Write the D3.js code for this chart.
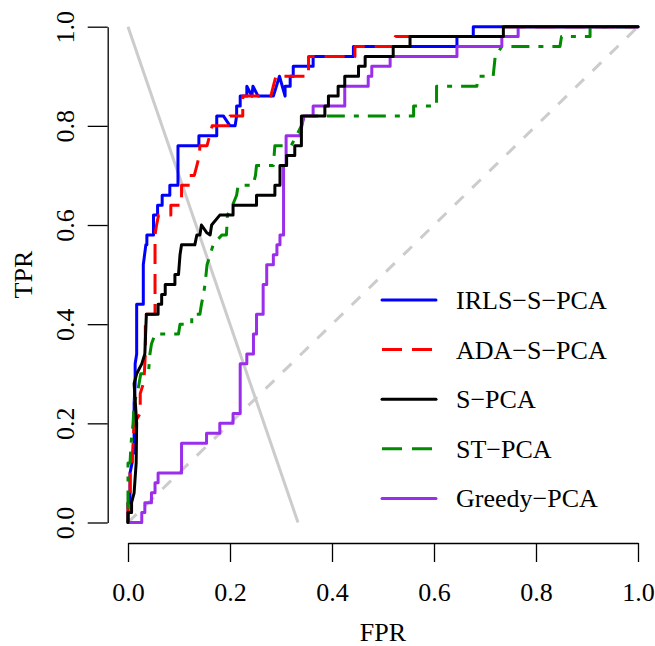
<!DOCTYPE html>
<html>
<head>
<meta charset="utf-8">
<script src="https://cdn.jsdelivr.net/npm/d3@7"></script>
<style>
  html, body { margin: 0; padding: 0; background: #fff; }
  svg { display: block; }
  text { font-family: "Liberation Serif", "Times New Roman", Times, serif; fill: #000; }
</style>
</head>
<body>
<svg id="chart" width="655" height="646"></svg>
<script>
// ---------- data ----------
const seriesNames = ["IRLS\u2212S\u2212PCA", "ADA\u2212S\u2212PCA", "S\u2212PCA", "ST\u2212PCA", "Greedy\u2212PCA"];
const tickValues = [0, 0.2, 0.4, 0.6, 0.8, 1.0];
const tickLabels = ["0.0", "0.2", "0.4", "0.6", "0.8", "1.0"];
const xTitle = "FPR";
const yTitle = "TPR";

// [FPR, TPR] points
const irls = [[0,0],[0,0.04],[0.004,0.04],[0.004,0.10],[0.008,0.12],[0.008,0.14],[0.012,0.14],[0.012,0.24],[0.014,0.28],[0.014,0.32],[0.017,0.34],[0.017,0.44],[0.03,0.44],[0.03,0.52],[0.035,0.56],[0.037,0.56],[0.037,0.58],[0.05,0.58],[0.05,0.62],[0.058,0.62],[0.058,0.64],[0.067,0.64],[0.067,0.66],[0.082,0.66],[0.082,0.68],[0.098,0.68],[0.098,0.76],[0.139,0.76],[0.139,0.78],[0.174,0.78],[0.174,0.82],[0.187,0.82],[0.2,0.80],[0.21,0.80],[0.213,0.82],[0.213,0.84],[0.22,0.84],[0.22,0.86],[0.233,0.86],[0.233,0.88],[0.243,0.86],[0.245,0.88],[0.255,0.86],[0.285,0.86],[0.297,0.90],[0.308,0.86],[0.308,0.88],[0.318,0.88],[0.318,0.90],[0.324,0.90],[0.324,0.92],[0.363,0.92],[0.363,0.94],[0.442,0.94],[0.442,0.96],[0.645,0.96],[0.645,0.98],[0.677,0.98],[0.677,1],[1,1]];
const ada = [[0,0],[0,0.04],[0.004,0.06],[0.004,0.10],[0.008,0.12],[0.01,0.16],[0.012,0.20],[0.024,0.22],[0.024,0.26],[0.03,0.28],[0.032,0.30],[0.034,0.34],[0.034,0.40],[0.036,0.42],[0.053,0.42],[0.053,0.58],[0.056,0.60],[0.06,0.62],[0.084,0.62],[0.084,0.64],[0.105,0.64],[0.105,0.68],[0.121,0.68],[0.121,0.70],[0.13,0.70],[0.135,0.72],[0.14,0.74],[0.141,0.76],[0.155,0.76],[0.16,0.78],[0.165,0.80],[0.2,0.80],[0.2,0.82],[0.225,0.82],[0.225,0.86],[0.28,0.86],[0.285,0.88],[0.29,0.90],[0.354,0.90],[0.354,0.94],[0.445,0.94],[0.445,0.96],[0.524,0.96],[0.524,0.98],[0.736,0.98],[0.736,1],[1,1]];
const spca = [[0,0],[0,0.02],[0.007,0.02],[0.007,0.04],[0.012,0.06],[0.016,0.12],[0.017,0.20],[0.012,0.28],[0.017,0.30],[0.027,0.32],[0.033,0.34],[0.036,0.42],[0.059,0.42],[0.059,0.44],[0.066,0.44],[0.066,0.46],[0.073,0.46],[0.073,0.48],[0.092,0.48],[0.092,0.50],[0.099,0.50],[0.102,0.54],[0.105,0.56],[0.131,0.56],[0.135,0.58],[0.141,0.58],[0.144,0.60],[0.154,0.585],[0.161,0.58],[0.164,0.60],[0.18,0.62],[0.206,0.62],[0.206,0.64],[0.252,0.64],[0.252,0.66],[0.288,0.66],[0.288,0.68],[0.298,0.68],[0.298,0.72],[0.311,0.72],[0.311,0.74],[0.327,0.74],[0.327,0.76],[0.34,0.76],[0.34,0.82],[0.386,0.82],[0.386,0.84],[0.393,0.84],[0.393,0.86],[0.412,0.86],[0.412,0.88],[0.425,0.88],[0.425,0.90],[0.452,0.90],[0.452,0.92],[0.465,0.92],[0.465,0.94],[0.52,0.94],[0.52,0.96],[0.553,0.96],[0.553,0.98],[0.736,0.98],[0.736,1],[1,1]];
const stpca = [[0,0],[0,0.12],[0.004,0.12],[0.006,0.16],[0.01,0.20],[0.012,0.24],[0.02,0.27],[0.025,0.30],[0.04,0.30],[0.043,0.34],[0.046,0.36],[0.053,0.38],[0.099,0.38],[0.102,0.40],[0.125,0.40],[0.125,0.42],[0.141,0.42],[0.144,0.44],[0.148,0.46],[0.151,0.48],[0.155,0.52],[0.161,0.54],[0.167,0.56],[0.184,0.58],[0.193,0.58],[0.195,0.62],[0.205,0.64],[0.213,0.66],[0.216,0.68],[0.245,0.68],[0.25,0.70],[0.252,0.72],[0.285,0.72],[0.288,0.76],[0.32,0.76],[0.33,0.78],[0.34,0.80],[0.345,0.82],[0.56,0.82],[0.56,0.84],[0.605,0.84],[0.605,0.88],[0.684,0.88],[0.687,0.90],[0.716,0.90],[0.72,0.94],[0.733,0.96],[0.847,0.96],[0.85,0.98],[0.906,0.98],[0.906,1],[1,1]];
const greedy = [[0,0],[0.027,0],[0.027,0.02],[0.033,0.02],[0.033,0.04],[0.046,0.04],[0.046,0.06],[0.053,0.06],[0.053,0.08],[0.059,0.08],[0.059,0.10],[0.105,0.10],[0.105,0.16],[0.154,0.16],[0.154,0.18],[0.18,0.18],[0.18,0.20],[0.206,0.20],[0.206,0.22],[0.22,0.22],[0.22,0.32],[0.233,0.32],[0.233,0.34],[0.246,0.34],[0.246,0.38],[0.252,0.38],[0.252,0.42],[0.265,0.42],[0.265,0.48],[0.272,0.48],[0.272,0.52],[0.285,0.52],[0.285,0.54],[0.292,0.54],[0.292,0.56],[0.298,0.56],[0.298,0.58],[0.305,0.58],[0.305,0.72],[0.31,0.72],[0.31,0.78],[0.337,0.78],[0.345,0.82],[0.363,0.82],[0.363,0.84],[0.425,0.84],[0.425,0.88],[0.471,0.88],[0.471,0.90],[0.478,0.90],[0.478,0.92],[0.514,0.92],[0.514,0.94],[0.645,0.94],[0.645,0.96],[0.733,0.96],[0.733,0.98],[0.765,0.98],[0.765,1],[1,1]];

// reference lines (grey)
const chanceLine = [[0,0],[1,1]];
const cutLine = [[0,1],[1/3,0]];

// ---------- styles ----------
const colors = ["#0000ff", "#ff0000", "#000000", "#008b00", "#9a2eea"];
const plotDash = [null, "20,10", null, "5,9,18,9", null];
const legendDash = [null, "20,10", null, "20,10", null];
const seriesData = [irls, ada, spca, stpca, greedy];
const drawOrder = [0, 1, 3, 4, 2];

// ---------- layout ----------
const svg = d3.select("#chart");
const x = d3.scaleLinear().domain([0, 1]).range([128, 638]);
const y = d3.scaleLinear().domain([0, 1]).range([522.5, 26.7]);
const fontSize = 26;

const line = d3.line().x(d => x(d[0])).y(d => y(d[1]));

// grey reference lines
svg.append("path").attr("d", line(chanceLine))
  .attr("fill", "none").attr("stroke", "#cccccc").attr("stroke-width", 3)
  .attr("stroke-dasharray", "12,12");
svg.append("path").attr("d", line(cutLine))
  .attr("fill", "none").attr("stroke", "#cccccc").attr("stroke-width", 3);

// curves
drawOrder.forEach(i => {
  svg.append("path").attr("d", line(seriesData[i]))
    .attr("fill", "none")
    .attr("stroke", colors[i])
    .attr("stroke-width", 3)
    .attr("stroke-linejoin", "round")
    .attr("stroke-linecap", plotDash[i] ? "butt" : "round")
    .attr("stroke-dasharray", plotDash[i]);
});

// x axis
const xAxis = d3.axisBottom(x).tickValues(tickValues)
  .tickFormat((d, i) => tickLabels[i]).tickSize(19).tickSizeOuter(0).tickPadding(21);
const gx = svg.append("g").attr("transform", "translate(0,543)").call(xAxis);
gx.select(".domain").attr("stroke", "#000").attr("stroke-width", 1.3);
gx.selectAll(".tick line").attr("stroke", "#000").attr("stroke-width", 1.3);
gx.selectAll(".tick text").attr("font-size", fontSize)
  .attr("font-family", "Liberation Serif, Times New Roman, serif")
  .attr("y", 58).attr("dy", null).attr("fill", "#000");

// y axis
const yAxis = d3.axisLeft(y).tickValues(tickValues)
  .tickFormat((d, i) => tickLabels[i]).tickSize(20).tickSizeOuter(0);
const gy = svg.append("g").attr("transform", "translate(107.7,0)").call(yAxis);
gy.select(".domain").attr("stroke", "#000").attr("stroke-width", 1.3);
gy.selectAll(".tick line").attr("stroke", "#000").attr("stroke-width", 1.3);
gy.selectAll(".tick text").attr("font-size", fontSize)
  .attr("font-family", "Liberation Serif, Times New Roman, serif")
  .attr("transform", "rotate(-90)")
  .attr("x", 0).attr("y", -33.7).attr("dy", null)
  .attr("text-anchor", "middle").attr("fill", "#000");

// axis titles
svg.append("text").attr("x", (x(0) + x(1)) / 2).attr("y", 641)
  .attr("text-anchor", "middle").attr("font-size", fontSize).text(xTitle);
svg.append("text")
  .attr("transform", `translate(32,${(y(0) + y(1)) / 2}) rotate(-90)`)
  .attr("text-anchor", "middle").attr("font-size", fontSize).text(yTitle);

// legend
const legend = svg.append("g");
seriesNames.forEach((name, i) => {
  const ly = 300 + i * 49.6;
  legend.append("line").attr("x1", 382).attr("x2", 436).attr("y1", ly).attr("y2", ly)
    .attr("stroke", colors[i]).attr("stroke-width", 3)
    .attr("stroke-linecap", legendDash[i] ? "butt" : "round")
    .attr("stroke-dasharray", legendDash[i]);
  legend.append("text").attr("x", 456).attr("y", ly + 9)
    .attr("font-size", fontSize).text(name);
});
</script>
</body>
</html>
